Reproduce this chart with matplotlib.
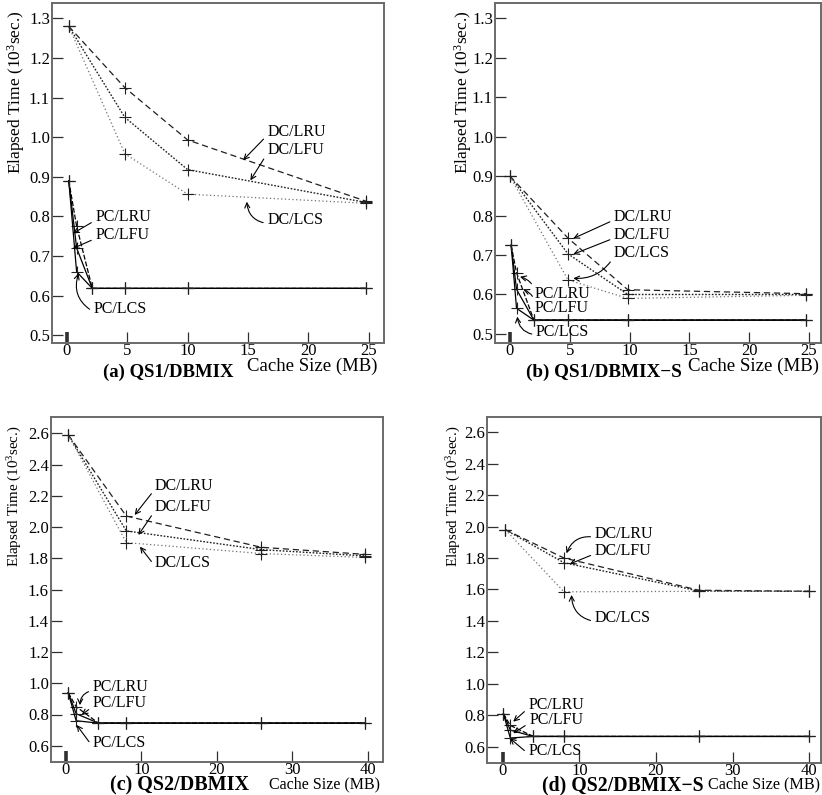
import matplotlib
matplotlib.use("Agg")
import matplotlib.pyplot as plt
import numpy as np

plt.rcParams['font.family'] = ['Liberation Serif', 'DejaVu Serif']
plt.rcParams['mathtext.fontset'] = 'custom'
plt.rcParams['mathtext.rm'] = 'Liberation Serif'
plt.rcParams['mathtext.it'] = 'Liberation Serif:italic'

# ---------------- data ----------------
# (a) QS1/DBMIX
a_dc_x = [0.15, 4.8, 10.0, 24.8]
a_dc_lru = [1.28, 1.125, 0.993, 0.838]
a_dc_lfu = [1.28, 1.050, 0.918, 0.835]
a_dc_lcs = [1.28, 0.958, 0.856, 0.833]
a_pc_x = [0.15, 0.8, 2.1, 4.8, 10.0, 24.8]
a_pc_lru = [0.89, 0.775, 0.618, 0.618, 0.618, 0.618]
a_pc_lfu = [0.89, 0.720, 0.618, 0.618, 0.618, 0.618]
a_pc_lcs = [0.89, 0.660, 0.618, 0.618, 0.618, 0.618]

# (b) QS1/DBMIX-S
b_dc_x = [0.0, 4.85, 9.85, 24.75]
b_dc_lru = [0.90, 0.743, 0.612, 0.602]
b_dc_lfu = [0.90, 0.703, 0.600, 0.600]
b_dc_lcs = [0.90, 0.637, 0.590, 0.598]
b_pc_x = [0.1, 0.55, 2.0, 4.85, 9.85, 24.75]
b_pc_lru = [0.725, 0.655, 0.535, 0.535, 0.535, 0.535]
b_pc_lfu = [0.725, 0.613, 0.535, 0.535, 0.535, 0.535]
b_pc_lcs = [0.725, 0.565, 0.535, 0.535, 0.535, 0.535]

# (c) QS2/DBMIX
c_dc_x = [0.3, 8.0, 25.9, 39.6]
c_dc_lru = [2.59, 2.070, 1.870, 1.825]
c_dc_lfu = [2.59, 1.975, 1.855, 1.815]
c_dc_lcs = [2.59, 1.900, 1.830, 1.805]
c_pc_x = [0.3, 1.35, 4.3, 8.0, 25.9, 39.6]
c_pc_lru = [0.94, 0.850, 0.745, 0.745, 0.745, 0.745]
c_pc_lfu = [0.94, 0.805, 0.745, 0.745, 0.745, 0.745]
c_pc_lcs = [0.94, 0.760, 0.745, 0.745, 0.745, 0.745]

# (d) QS2/DBMIX-S
d_dc_x = [0.35, 8.0, 25.6, 40.0]
d_dc_lru = [1.98, 1.800, 1.595, 1.588]
d_dc_lfu = [1.98, 1.770, 1.590, 1.588]
d_dc_lcs = [1.98, 1.585, 1.588, 1.588]
d_pc_x = [0.1, 1.0, 4.0, 8.0, 25.6, 40.0]
d_pc_lru = [0.81, 0.735, 0.665, 0.665, 0.665, 0.665]
d_pc_lfu = [0.81, 0.705, 0.665, 0.665, 0.665, 0.665]
d_pc_lcs = [0.81, 0.655, 0.665, 0.665, 0.665, 0.665]

captions = ["(a) QS1/DBMIX", "(b) QS1/DBMIX\u2212S", "(c) QS2/DBMIX", "(d) QS2/DBMIX\u2212S"]
xlabel = "Cache Size (MB)"
ylabel = "Elapsed Time (10$^{3}$sec.)"
series_names = ["DC/LRU", "DC/LFU", "DC/LCS", "PC/LRU", "PC/LFU", "PC/LCS"]

# cap / cache entries: (x px, baseline y px, fontsize)
panels = [
    dict(dc_x=a_dc_x, dc=[a_dc_lru, a_dc_lfu, a_dc_lcs], pc_x=a_pc_x, pc=[a_pc_lru, a_pc_lfu, a_pc_lcs],
         rect=[52/822, 1-343/795, 331.6/822, 340/795], xlim=(-1.24, 26.24), ylim=(0.48, 1.339),
         xticks=[0, 5, 10, 15, 20, 25], yticks=np.round(np.arange(0.5, 1.31, 0.1), 1),
         ylab_pos=(-0.108, 0.737), ylab_fs=12.5, tfs=12,
         cap=(168, 377, 13.5), cache=(247, 371, 13.5),
         ann=[("DC/LRU", 14.6, 0.942, 16.6, 1.013, 0.0), ("DC/LFU", 15.2, 0.891, 16.6, 0.967, 0.0),
              ("DC/LCS", 14.9, 0.837, 16.6, 0.79, -0.4),
              ("PC/LRU", 0.5, 0.757, 2.35, 0.798, 0.0), ("PC/LFU", 0.5, 0.719, 2.35, 0.752, 0.0),
              ("PC/LCS", 0.96, 0.656, 2.2, 0.567, -0.4)]),
    dict(dc_x=b_dc_x, dc=[b_dc_lru, b_dc_lfu, b_dc_lcs], pc_x=b_pc_x, pc=[b_pc_lru, b_pc_lfu, b_pc_lcs],
         rect=[495/822, 1-343/795, 326/822, 340/795], xlim=(-1.25, 26.0), ylim=(0.477, 1.339),
         xticks=[0, 5, 10, 15, 20, 25], yticks=np.round(np.arange(0.5, 1.31, 0.1), 1),
         ylab_pos=(-0.097, 0.737), ylab_fs=12.5, tfs=12,
         cap=(604, 377, 13.8), cache=(688, 371, 13.6),
         ann=[("DC/LRU", 5.29, 0.742, 8.69, 0.797, 0.0), ("DC/LFU", 5.29, 0.702, 8.69, 0.751, 0.0),
              ("DC/LCS", 5.29, 0.641, 8.69, 0.704, -0.3),
              ("PC/LRU", 0.84, 0.645, 2.09, 0.601, 0.4), ("PC/LFU", 1.11, 0.613, 2.09, 0.565, 0.4),
              ("PC/LCS", 0.61, 0.544, 2.17, 0.506, -0.4)]),
    dict(dc_x=c_dc_x, dc=[c_dc_lru, c_dc_lfu, c_dc_lcs], pc_x=c_pc_x, pc=[c_pc_lru, c_pc_lfu, c_pc_lcs],
         rect=[51/822, 1-762/795, 332/822, 345/795], xlim=(-1.98, 42.0), ylim=(0.496, 2.704),
         xticks=[0, 10, 20, 30, 40], yticks=np.round(np.arange(0.6, 2.61, 0.2), 1),
         ylab_pos=(-0.108, 0.769), ylab_fs=10.8, tfs=12,
         cap=(179, 790, 14.5), cache=(269, 788, 11.5),
         ann=[("DC/LRU", 9.1, 2.077, 11.8, 2.263, 0.0), ("DC/LFU", 9.6, 1.949, 11.8, 2.126, 0.0),
              ("DC/LCS", 9.8, 1.874, 11.8, 1.77, 0.0),
              ("PC/LRU", 1.85, 0.86, 3.53, 0.974, 0.4), ("PC/LFU", 2.08, 0.797, 3.53, 0.871, 0.0),
              ("PC/LCS", 1.42, 0.733, 3.53, 0.615, 0.0)]),
    dict(dc_x=d_dc_x, dc=[d_dc_lru, d_dc_lfu, d_dc_lcs], pc_x=d_pc_x, pc=[d_pc_lru, d_pc_lfu, d_pc_lcs],
         rect=[487.3/822, 1-763/795, 334/822, 346/795], xlim=(-2.0, 41.56), ylim=(0.496, 2.697),
         xticks=[0, 10, 20, 30, 40], yticks=np.round(np.arange(0.6, 2.61, 0.2), 1),
         ylab_pos=(-0.099, 0.77), ylab_fs=10.8, tfs=12,
         cap=(623, 790, 14.2), cache=(708, 788, 11.6),
         ann=[("DC/LRU", 8.33, 1.83, 12.0, 1.953, 0.4), ("DC/LFU", 8.76, 1.762, 12.0, 1.847, 0.0),
              ("DC/LCS", 8.98, 1.565, 12.0, 1.417, -0.4),
              ("PC/LRU", 1.38, 0.759, 3.33, 0.865, 0.0), ("PC/LFU", 1.38, 0.685, 3.46, 0.77, 0.0),
              ("PC/LCS", 0.95, 0.653, 3.33, 0.575, 0.0)]),
]

dc_styles = [dict(ls=(0, (5, 3)), color='#202020', lw=0.9),
             dict(ls=(0, (1.2, 1.2)), color='#202020', lw=1.0),
             dict(ls=(0, (1, 2)), color='#707070', lw=0.9)]
pc_styles = [dict(ls=(0, (4, 1.5)), color='black', lw=0.9),
             dict(ls='-', color='black', lw=0.9),
             dict(ls='-', color='black', lw=0.9)]

W, H = 822, 795
fig = plt.figure(figsize=(W/100, H/100), dpi=100)

for i, p in enumerate(panels):
    ax = fig.add_axes(p['rect'])
    for ys, st in zip(p['dc'], dc_styles):
        ax.plot(p['dc_x'], ys, marker='+', ms=8, mew=0.8, mec='#202020', **st)
    for ys, st in zip(p['pc'], pc_styles):
        ax.plot(p['pc_x'], ys, marker='+', ms=8, mew=0.8, mec='#202020', **st)
    ax.set_xlim(*p['xlim'])
    ax.set_ylim(*p['ylim'])
    ax.set_xticks(p['xticks'])
    ax.set_yticks(p['yticks'])
    ax.set_yticklabels([f"{v:.1f}" for v in p['yticks']])
    ax.tick_params(direction='in', length=8, width=0.9, labelsize=p['tfs'], color='#303030', pad=1.5)
    ax.tick_params(axis='x', pad=0)
    t0 = ax.xaxis.get_major_ticks()[0]
    t0.tick1line.set_markeredgewidth(2.6)
    for s in ax.spines.values():
        s.set_color('#6a6a6a')
        s.set_linewidth(1.4)
    ax.set_ylabel(ylabel, fontsize=p['ylab_fs'], va='center')
    ax.yaxis.set_label_coords(*p['ylab_pos'])
    for (lab, tx, ty, sx, sy, rad) in p['ann']:
        ax.annotate(lab, xy=(tx, ty), xytext=(sx, sy), fontsize=11.5, ha='left', va='center',
                    arrowprops=dict(arrowstyle='->', lw=0.8, color='black', shrinkA=1, shrinkB=0,
                                    relpos=(0, 0.3), connectionstyle=f'arc3,rad={rad}',
                                    mutation_scale=9))
    cx, cy, cfs = p['cap']
    fig.text(cx / W, 1 - cy / H, captions[i], fontsize=cfs, fontweight='bold',
             ha='center', va='baseline')
    kx, ky, kfs = p['cache']
    fig.text(kx / W, 1 - ky / H, xlabel, fontsize=kfs, ha='left', va='baseline')

fig.savefig("out.png", dpi=100)
